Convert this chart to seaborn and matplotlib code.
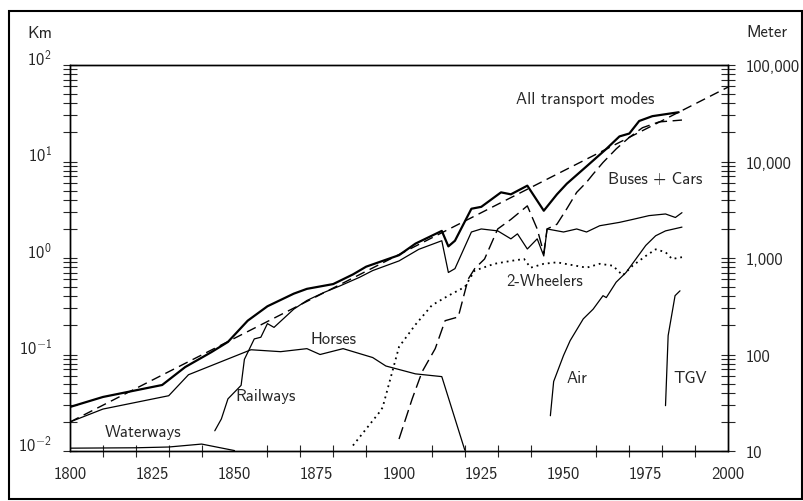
import matplotlib
matplotlib.use('Agg')
import matplotlib.pyplot as plt
import matplotlib.patches as patches
from matplotlib.ticker import FixedLocator, LogLocator, NullFormatter
import seaborn as sns

# Mobility in France, km per person per day
trend_years = [1800, 2000]
trend_km = [0.02, 59]

all_years = [1800, 1810, 1828, 1835, 1843, 1848, 1854, 1860, 1868, 1872, 1880, 1886, 1890,
             1900, 1905, 1913, 1915, 1917, 1922, 1925, 1931, 1934, 1939, 1944, 1948, 1951,
             1957, 1963, 1967, 1970, 1973, 1977, 1985]
all_km = [0.0286, 0.0363, 0.0483, 0.0741, 0.106, 0.135, 0.224, 0.316, 0.427, 0.479, 0.537, 0.676, 0.813,
          1.07, 1.41, 1.91, 1.32, 1.51, 3.24, 3.39, 4.79, 4.57, 5.62, 3.09, 4.57, 5.89,
          8.91, 13.5, 18.2, 19.5, 26.3, 29.5, 32.4]

rail_years = [1844, 1846, 1848, 1852, 1853, 1856, 1858, 1860, 1862, 1868, 1872, 1877, 1882, 1888,
              1892, 1900, 1906, 1913, 1915, 1917, 1922, 1925, 1930, 1934, 1936, 1939, 1942, 1944,
              1945, 1950, 1954, 1957, 1961, 1967, 1971, 1976, 1981, 1984, 1986]
rail_km = [0.0162, 0.0215, 0.0347, 0.0479, 0.0891, 0.145, 0.151, 0.209, 0.191, 0.295, 0.363, 0.437, 0.513, 0.631,
           0.741, 0.933, 1.23, 1.51, 0.708, 0.776, 1.86, 2.0, 1.91, 1.58, 1.78, 1.24, 1.58, 1.05,
           2.0, 1.86, 2.0, 1.86, 2.16, 2.34, 2.51, 2.75, 2.86, 2.63, 2.95]

horse_years = [1800, 1810, 1830, 1836, 1855, 1864, 1872, 1876, 1883, 1892, 1896, 1905, 1913, 1920]
horse_km = [0.020, 0.0272, 0.0374, 0.0617, 0.112, 0.107, 0.115, 0.100, 0.115, 0.093, 0.076, 0.063, 0.059, 0.0102]

water_years = [1800, 1820, 1830, 1840, 1850]
water_km = [0.0107, 0.0108, 0.011, 0.0118, 0.0101]

car_years = [1900, 1904, 1907, 1911, 1914, 1918, 1921, 1923, 1926, 1930, 1934, 1939, 1942, 1944,
             1945, 1948, 1951, 1954, 1957, 1959, 1962, 1966, 1970, 1974, 1979, 1986]
car_km = [0.0133, 0.0347, 0.0661, 0.115, 0.224, 0.245, 0.603, 0.776, 0.977, 2.0, 2.51, 3.47, 2.0, 1.12,
          2.0, 2.24, 3.24, 4.79, 6.1, 7.41, 9.77, 13.5, 17.8, 22.4, 25.7, 26.9]

bike_years = [1886, 1894, 1895, 1900, 1905, 1910, 1915, 1920, 1923, 1929, 1934, 1938, 1940, 1944,
              1948, 1957, 1961, 1965, 1968, 1971, 1975, 1978, 1981, 1983, 1986]
bike_km = [0.0114, 0.0251, 0.0282, 0.120, 0.204, 0.324, 0.407, 0.501, 0.741, 0.871, 0.933, 0.977, 0.794, 0.871,
           0.902, 0.794, 0.871, 0.832, 0.661, 0.832, 1.05, 1.23, 1.15, 0.977, 1.02]

air_years = [1946, 1947, 1950, 1952, 1956, 1959, 1962, 1963, 1966, 1969, 1972, 1975, 1978, 1981, 1986]
air_km = [0.0232, 0.0525, 0.0977, 0.139, 0.234, 0.295, 0.407, 0.389, 0.562, 0.708, 0.977, 1.35, 1.70, 1.91, 2.09]

tgv_years = [1981, 1981.8, 1983.9, 1985.4]
tgv_km = [0.0295, 0.157, 0.407, 0.457]

km_ticks = [0.01, 0.1, 1, 10, 100]
km_labels = [r'$10^{-2}$', r'$10^{-1}$', r'$10^{0}$', r'$10^{1}$', r'$10^{2}$']
m_ticks = [10, 100, 1000, 10000, 100000]
m_labels = ['10', '100', '1,000', '10,000', '100,000']
year_labels = list(range(1800, 2001, 25))

sns.set_style('white')
plt.rcParams['font.family'] = ['cmss10', 'DejaVu Sans']
plt.rcParams['mathtext.fontset'] = 'custom'
plt.rcParams['mathtext.rm'] = 'cmss10'
plt.rcParams['mathtext.default'] = 'rm'
plt.rcParams['axes.unicode_minus'] = False
plt.rcParams['axes.edgecolor'] = 'black'

fig = plt.figure(figsize=(8.04, 5.02), dpi=100)
ax = fig.add_axes([0.0871, 0.0996, 0.8184, 0.7689])


def draw(years, km, lw=0.9, ls='-'):
    sns.lineplot(x=years, y=km, ax=ax, color='black', linewidth=lw, linestyle=ls,
                 legend=False, estimator=None, sort=False)


draw(trend_years, trend_km, 1.0, (0, (7, 4)))
draw(all_years, all_km, 1.6)
draw(rail_years, rail_km)
draw(horse_years, horse_km)
draw(water_years, water_km)
draw(car_years, car_km, 1.0, (0, (9, 4)))
draw(bike_years, bike_km, 1.3, (0, (1, 2.2)))
draw(air_years, air_km)
draw(tgv_years, tgv_km)

ax.set_yscale('log')
ax.set_xlim(1800, 2000)
ax.set_ylim(0.01, 100)
ax.set_xlabel('')
ax.set_ylabel('')

ax.yaxis.set_major_locator(FixedLocator(km_ticks))
ax.set_yticklabels(km_labels)
ax.yaxis.set_minor_locator(LogLocator(base=10, subs=range(2, 10)))
ax.yaxis.set_minor_formatter(NullFormatter())
ax.xaxis.set_major_locator(FixedLocator(year_labels))
ax.set_xticklabels([str(y) for y in year_labels])
ax.xaxis.set_minor_locator(FixedLocator(range(1800, 2001, 10)))
ax.tick_params(axis='y', which='both', direction='inout', length=10, width=0.8,
               left=True, right=False, labelsize=12, pad=8)
ax.tick_params(axis='x', which='major', length=0, labelsize=12, pad=11)
ax.tick_params(axis='x', which='minor', direction='inout', length=9, width=0.8, bottom=True)
for lab in ax.get_yticklabels():
    lab.set_verticalalignment('baseline')

for s in ax.spines.values():
    s.set_linewidth(1.0)
    s.set_color('black')

twin = ax.twinx()
twin.set_yscale('log')
twin.set_ylim(10, 100000)
twin.yaxis.set_major_locator(FixedLocator(m_ticks))
twin.set_yticklabels(m_labels)
twin.yaxis.set_minor_locator(LogLocator(base=10, subs=range(2, 10)))
twin.yaxis.set_minor_formatter(NullFormatter())
twin.tick_params(axis='y', which='both', direction='inout', length=10, width=0.8,
                 right=True, labelsize=12, pad=8)
for s in twin.spines.values():
    s.set_linewidth(1.0)
    s.set_color('black')

ax.text(1956.5, 44.5, 'All transport modes', ha='center', va='center', fontsize=12)
ax.annotate('', xy=(1972.4, 25.5), xytext=(1969.2, 35),
            arrowprops=dict(arrowstyle='-', connectionstyle='arc3,rad=0.3', lw=0.8))
ax.text(1977.8, 6.6, 'Buses + Cars', ha='center', va='center', fontsize=12)
ax.text(1944.4, 0.58, '2-Wheelers', ha='center', va='center', fontsize=12)
ax.text(1954, 0.058, 'Air', ha='center', va='center', fontsize=12)
ax.text(1988.4, 0.058, 'TGV', ha='center', va='center', fontsize=12)
ax.text(1880, 0.147, 'Horses', ha='center', va='center', fontsize=12)
ax.text(1859.3, 0.0374, 'Railways', ha='center', va='center', fontsize=12)
ax.text(1822.3, 0.0158, 'Waterways', ha='center', va='center', fontsize=12)

fig.text(40 / 804, 1 - 34 / 502, 'Km', ha='center', va='center', fontsize=12)
fig.text(767 / 804, 1 - 33 / 502, 'Meter', ha='center', va='center', fontsize=12)

fig.patches.append(patches.Rectangle((0.0112, 0.004), 0.9863, 0.972, transform=fig.transFigure,
                                     fill=False, lw=1.5, ec='black'))

fig.savefig('out.png', dpi=100)
